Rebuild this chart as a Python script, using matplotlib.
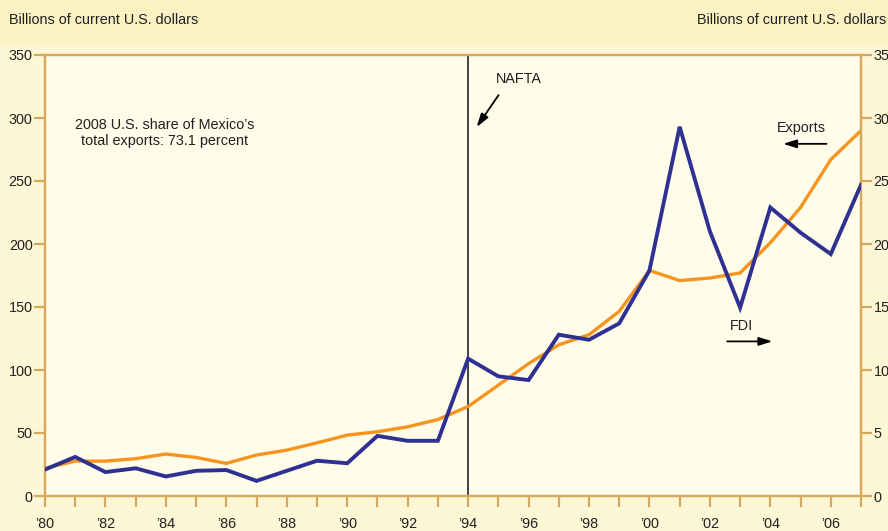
import numpy as np
import matplotlib
matplotlib.use("Agg")
from matplotlib import pyplot as plt
from matplotlib.patches import Rectangle

plt.rcParams['font.family'] = ['Liberation Sans', 'DejaVu Sans']
FS = 10.4

years = list(range(1980, 2008))
exports = [22, 27.7, 27.7, 29.6, 33.3, 30.6, 25.9, 32.5, 36.4, 42.2,
           48.3, 51, 54.9, 60.7, 71, 88, 105, 120, 128, 146.5,
           179, 171, 173, 177, 201, 229, 267, 290]
# FDI, right axis (billions of current U.S. dollars)
fdi = [2.1, 3.1, 1.9, 2.2, 1.55, 2.0, 2.06, 1.2, 2.0, 2.8,
       2.6, 4.77, 4.38, 4.38, 10.9, 9.5, 9.2, 12.8, 12.4, 13.7,
       17.9, 29.3, 21.0, 14.95, 22.9, 20.9, 19.2, 24.7]
left_ticks = list(range(0, 351, 50))
right_ticks = list(range(0, 36, 5))

tan = '#D6A85C'
orange = '#F7941D'
navy = '#2E3192'
txt = '#231F20'

fig = plt.figure(figsize=(8.88, 5.31), dpi=100, facecolor='#FDF7D6')
fig.patches.append(Rectangle((0, 1 - 45 / 531), 1, 45 / 531, transform=fig.transFigure,
                             facecolor='#FBF2C4', edgecolor='none', zorder=0))

ax = fig.add_axes([45 / 888, 1 - 496 / 531, (861 - 45) / 888, (496 - 55) / 531])
ax.set_facecolor('#FFFDEA')
ax.set_xlim(1980, 2007)
ax.set_ylim(0, 350)

ax.plot(years, exports, color=orange, lw=2.4, solid_joinstyle='miter', zorder=3)

ax2 = ax.twinx()
ax2.set_ylim(0, 35)
ax2.plot(years, fdi, color=navy, lw=2.8, solid_joinstyle='miter', zorder=4)

for a in (ax, ax2):
    for s in a.spines.values():
        s.set_color(tan)
        s.set_linewidth(1.6)

ax.set_yticks(left_ticks)
ax.set_xticks(years)
ax.set_xticklabels(["\u2019%02d" % (y % 100) if y % 2 == 0 else "" for y in years])
ax.tick_params(axis='y', direction='out', length=8, width=1.6, color=tan,
               labelsize=FS, labelcolor=txt, pad=1)
ax.tick_params(axis='x', direction='out', length=8, width=1.6, color=tan,
               labelsize=FS, labelcolor=txt, pad=7)
ax2.set_yticks(right_ticks)
ax2.tick_params(axis='y', direction='out', length=8, width=1.6, color=tan,
                labelsize=FS, labelcolor=txt, pad=1)

ax.axvline(1994, color='#333333', lw=1.3, zorder=2)

ax.text(1983.97, 288, "2008 U.S. share of Mexico\u2019s\ntotal exports: 73.1 percent",
        ha='center', va='center', fontsize=FS, color=txt, linespacing=1.25)

arrow = dict(arrowstyle='-|>,head_length=0.8,head_width=0.25', color='black', lw=1.3)
ax.text(1995.69, 331, "NAFTA", ha='center', va='center', fontsize=FS, color=txt)
ax.annotate("", xy=(1994.23, 291), xytext=(1995.06, 320), arrowprops=arrow)

ax.text(2005.02, 292, "Exports", ha='center', va='center', fontsize=FS, color=txt)
ax.annotate("", xy=(2004.33, 279.5), xytext=(2005.95, 279.5), arrowprops=arrow)

ax.text(2003.04, 135, "FDI", ha='center', va='center', fontsize=FS, color=txt)
ax.annotate("", xy=(2004.16, 122.7), xytext=(2002.48, 122.7), arrowprops=arrow)

fig.text(9 / 888, 1 - 20 / 531, "Billions of current U.S. dollars", ha='left', va='center',
         fontsize=FS, color=txt)
fig.text(886 / 888, 1 - 20 / 531, "Billions of current U.S. dollars", ha='right', va='center',
         fontsize=FS, color=txt)

fig.savefig("out.png", dpi=100, facecolor=fig.get_facecolor())
